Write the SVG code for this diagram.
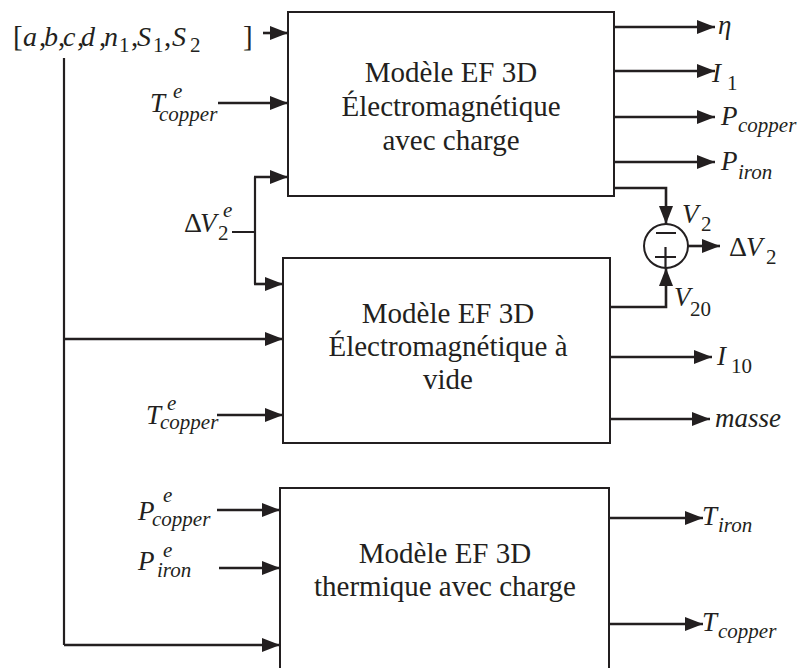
<svg xmlns="http://www.w3.org/2000/svg" width="800" height="668" viewBox="0 0 800 668" font-family="'Liberation Serif', 'Times New Roman', serif">
<style>
.box{fill:#fff;stroke:#231f20;stroke-width:2}
.ln{fill:none;stroke:#231f20;stroke-width:2.2}
.ar{fill:none;stroke:#231f20;stroke-width:2.6;marker-end:url(#ah)}
text{fill:#231f20}
.bt{font-size:29px;text-anchor:middle}
.m{font-size:27px;font-style:italic}
.s{font-size:21px;font-style:italic}
.r{font-size:28px}
.rs{font-size:21px}
.pm{font-size:28px;font-style:italic}
.pr{font-size:29px}
.ps{font-size:21px}
</style>
<defs>
<marker id="ah" markerUnits="userSpaceOnUse" markerWidth="20" markerHeight="16" refX="18" refY="7" orient="auto">
<path d="M0,0 L18,7 L0,14 z" fill="#231f20"/>
</marker>
</defs>
<rect width="800" height="668" fill="#fff"/>

<g id="connectors">
<path class="ar" d="M263,33 H288"/>
<path class="ln" d="M64,58 V645"/>
<path class="ar" d="M64,339 H283"/>
<path class="ar" d="M64,645 H280"/>
<path class="ar" d="M218,103 H288"/>
<path class="ln" d="M232,232 H255 M255,177 V284"/>
<path class="ar" d="M254,177 H288"/>
<path class="ar" d="M254,284 H283"/>
<path class="ar" d="M614,27 H715"/>
<path class="ar" d="M614,71 H715"/>
<path class="ar" d="M614,117 H715"/>
<path class="ar" d="M614,162 H715"/>
<path class="ar" d="M614,188 H666 V224"/>
<path class="ar" d="M610,307 H666 V268"/>
<path class="ar" d="M688,246 H720"/>
<path class="ar" d="M610,357 H712"/>
<path class="ar" d="M610,419 H710"/>
<path class="ar" d="M217,415 H283"/>
<path class="ar" d="M217,510 H280"/>
<path class="ar" d="M219,568 H280"/>
<path class="ar" d="M609,518 H703"/>
<path class="ar" d="M607,624 H703"/>
</g>

<g id="box1">
<rect class="box" x="288" y="12" width="326" height="184"/>
<text class="bt" x="451" y="82">Modèle EF 3D</text>
<text class="bt" x="451" y="116">Électromagnétique</text>
<text class="bt" x="451" y="150">avec charge</text>
</g>

<g id="box2">
<rect class="box" x="283" y="258" width="327" height="185"/>
<text class="bt" x="448" y="323">Modèle EF 3D</text>
<text class="bt" x="448" y="356">Électromagnétique à</text>
<text class="bt" x="448" y="389">vide</text>
</g>

<g id="box3">
<rect class="box" x="280" y="488" width="329" height="200"/>
<text class="bt" x="445" y="563">Modèle EF 3D</text>
<text class="bt" x="445" y="596">thermique avec charge</text>
</g>

<g id="summer">
<circle cx="666" cy="246" r="22" fill="#fff" stroke="#231f20" stroke-width="2"/>
<path class="ln" d="M656,233 H676 M655,257 H676 M665.5,247 V267"/>
</g>

<g id="params">
<text class="pr" x="13" y="46">[</text>
<text class="pm" x="23" y="46">a</text>
<text class="pr" x="39" y="46">,</text>
<text class="pm" x="44" y="46">b</text>
<text class="pr" x="58" y="46">,</text>
<text class="pm" x="63" y="46">c</text>
<text class="pr" x="77" y="46">,</text>
<text class="pm" x="81" y="46">d</text>
<text class="pr" x="99" y="46">,</text>
<text class="pm" x="104" y="46">n</text>
<text class="ps" x="119" y="52">1</text>
<text class="pr" x="131" y="46">,</text>
<text class="pm" x="137" y="46">S</text>
<text class="ps" x="153" y="52">1</text>
<text class="pr" x="164" y="46">,</text>
<text class="pm" x="172" y="46">S</text>
<text class="ps" x="190" y="52">2</text>
<text class="pr" x="243" y="46">]</text>
</g>

<g id="in-labels">
<text class="m" x="150" y="112">T</text>
<text class="s" x="173" y="98">e</text>
<text class="s" x="159" y="121">copper</text>

<text class="r" x="184" y="232">Δ</text>
<text class="m" x="200" y="232">V</text>
<text class="s" x="223" y="217">e</text>
<text class="rs" x="218" y="240">2</text>

<text class="m" x="146" y="424">T</text>
<text class="s" x="167" y="410">e</text>
<text class="s" x="160" y="429">copper</text>

<text class="m" x="138" y="520">P</text>
<text class="s" x="163" y="502">e</text>
<text class="s" x="152" y="526">copper</text>

<text class="m" x="138" y="570">P</text>
<text class="s" x="163" y="557">e</text>
<text class="s" x="157" y="577">iron</text>
</g>

<g id="out-labels">
<text class="m" x="718" y="34">η</text>
<text class="m" x="712" y="82">I</text>
<text class="rs" x="727" y="90">1</text>
<text class="m" x="721" y="125">P</text>
<text class="s" x="738" y="132">copper</text>
<text class="m" x="721" y="170">P</text>
<text class="s" x="738" y="179">iron</text>

<text class="m" x="682" y="223">V</text>
<text class="rs" x="701" y="231">2</text>
<text class="r" x="729" y="256">Δ</text>
<text class="m" x="746" y="256">V</text>
<text class="rs" x="766" y="264">2</text>
<text class="m" x="674" y="306">V</text>
<text class="rs" x="690" y="316">20</text>

<text class="m" x="717" y="365">I</text>
<text class="rs" x="731" y="373">10</text>
<text class="m" x="715" y="427">masse</text>

<text class="m" x="702" y="525">T</text>
<text class="s" x="718" y="532">iron</text>
<text class="m" x="702" y="631">T</text>
<text class="s" x="718" y="638">copper</text>
</g>
</svg>
